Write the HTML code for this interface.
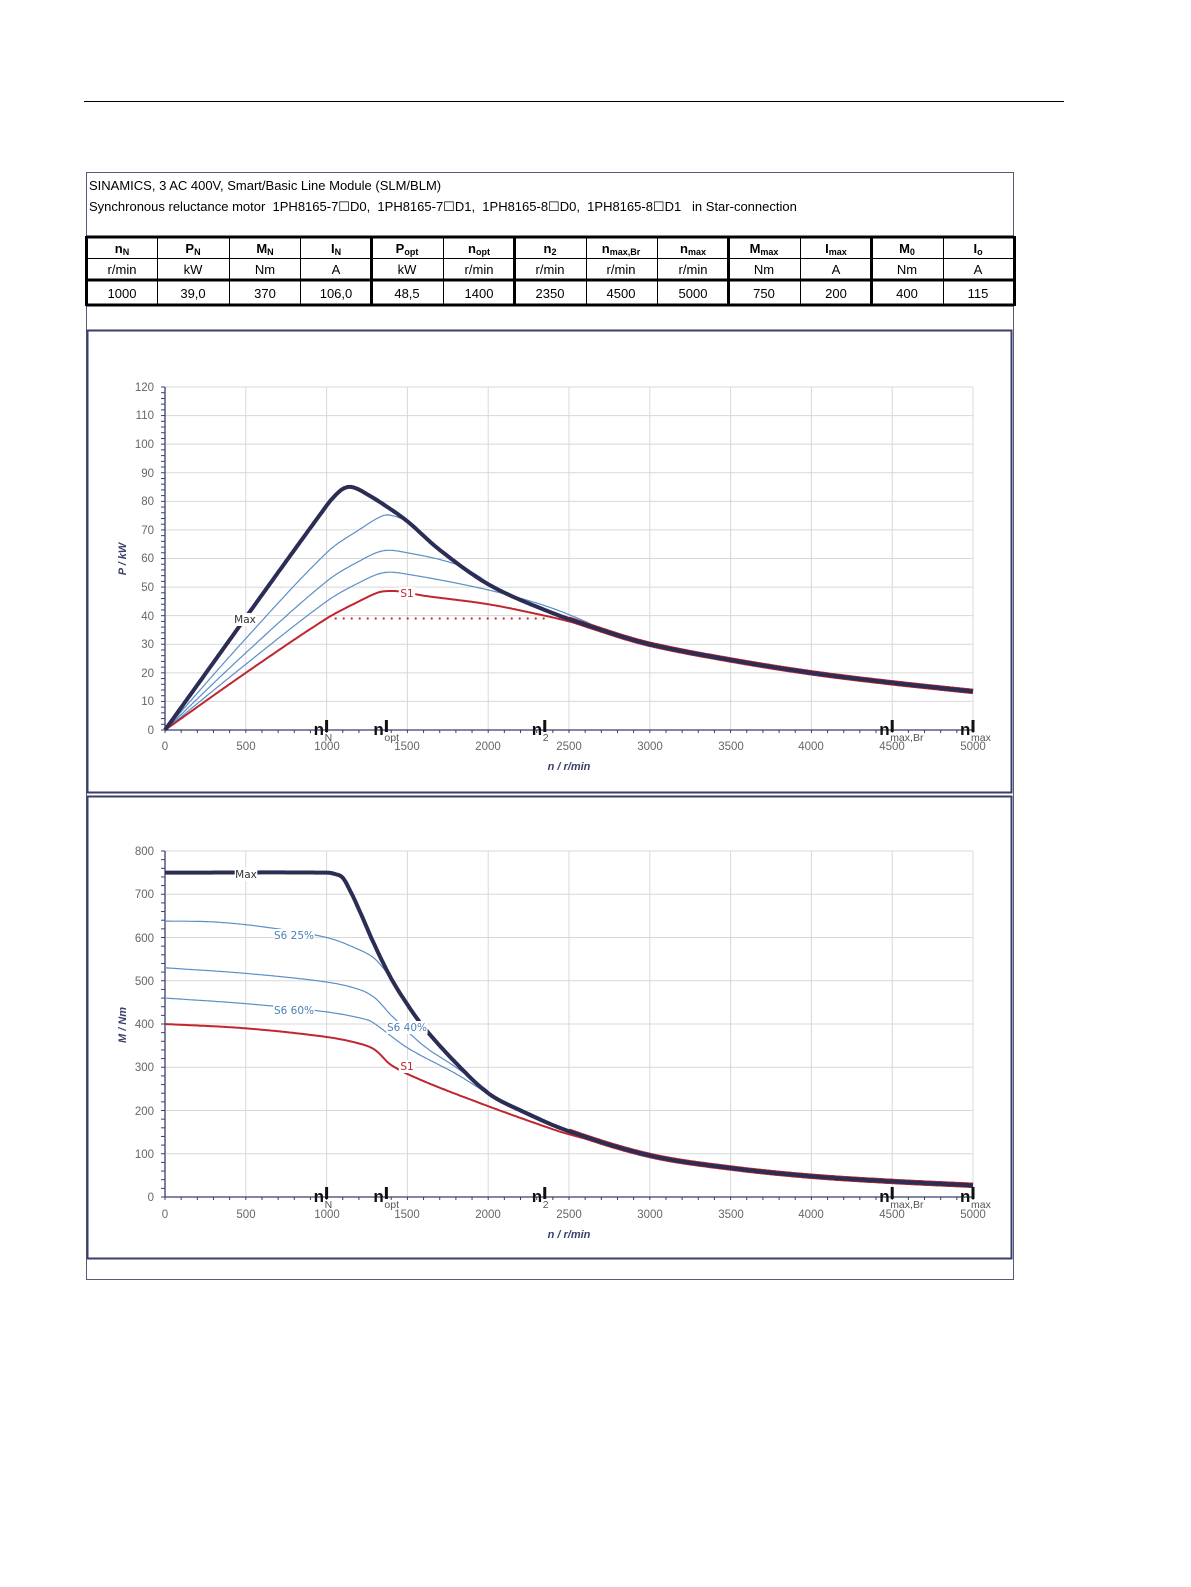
<!DOCTYPE html>
<html><head><meta charset="utf-8"><style>
html,body{margin:0;padding:0;background:#fff;overflow:hidden;width:1191px;height:1587px;}
svg{display:block;font-family:"Liberation Sans",Arial,sans-serif;}
.t{font-size:13px;fill:#000;white-space:pre;}
.ax{font-size:11.5px;fill:#666;}
.lab{font-size:11px;font-weight:bold;font-style:italic;fill:#3a3f6a;}
.mk{font-size:17px;font-weight:bold;fill:#111;}
.sub{font-size:10.5px;fill:#555;}
</style></head><body>
<svg id="s" width="1191" height="1587" viewBox="0 0 1191 1587" xmlns="http://www.w3.org/2000/svg" xml:space="preserve">
<line x1="84" y1="101.5" x2="1064" y2="101.5" stroke="#000" stroke-width="1"/>
<rect x="86.5" y="172.5" width="927" height="1107" fill="none" stroke="#5a5a78" stroke-width="1"/>
<text class="t" x="89" y="190">SINAMICS, 3 AC 400V, Smart/Basic Line Module (SLM/BLM)</text>
<text class="t" x="89" y="211">Synchronous reluctance motor  1PH8165-7☐D0,  1PH8165-7☐D1,  1PH8165-8☐D0,  1PH8165-8☐D1   in Star-connection</text>
<g id="tbl"></g>
<g class="t" text-anchor="middle" font-size="13">
<text x="122" y="253" font-weight="bold">n<tspan font-size="9" dy="2">N</tspan></text>
<text x="193" y="253" font-weight="bold">P<tspan font-size="9" dy="2">N</tspan></text>
<text x="265" y="253" font-weight="bold">M<tspan font-size="9" dy="2">N</tspan></text>
<text x="336" y="253" font-weight="bold">I<tspan font-size="9" dy="2">N</tspan></text>
<text x="407" y="253" font-weight="bold">P<tspan font-size="9" dy="2">opt</tspan></text>
<text x="479" y="253" font-weight="bold">n<tspan font-size="9" dy="2">opt</tspan></text>
<text x="550" y="253" font-weight="bold">n<tspan font-size="9" dy="2">2</tspan></text>
<text x="621" y="253" font-weight="bold">n<tspan font-size="9" dy="2">max,Br</tspan></text>
<text x="693" y="253" font-weight="bold">n<tspan font-size="9" dy="2">max</tspan></text>
<text x="764" y="253" font-weight="bold">M<tspan font-size="9" dy="2">max</tspan></text>
<text x="836" y="253" font-weight="bold">I<tspan font-size="9" dy="2">max</tspan></text>
<text x="907" y="253" font-weight="bold">M<tspan font-size="9" dy="2">0</tspan></text>
<text x="978" y="253" font-weight="bold">I<tspan font-size="9" dy="2">o</tspan></text>
<text x="122" y="274">r/min</text><text x="193" y="274">kW</text><text x="265" y="274">Nm</text><text x="336" y="274">A</text><text x="407" y="274">kW</text><text x="479" y="274">r/min</text><text x="550" y="274">r/min</text><text x="621" y="274">r/min</text><text x="693" y="274">r/min</text><text x="764" y="274">Nm</text><text x="836" y="274">A</text><text x="907" y="274">Nm</text><text x="978" y="274">A</text>
<text x="122" y="298">1000</text><text x="193" y="298">39,0</text><text x="265" y="298">370</text><text x="336" y="298">106,0</text><text x="407" y="298">48,5</text><text x="479" y="298">1400</text><text x="550" y="298">2350</text><text x="621" y="298">4500</text><text x="693" y="298">5000</text><text x="764" y="298">750</text><text x="836" y="298">200</text><text x="907" y="298">400</text><text x="978" y="298">115</text>
</g>
<rect x="87.5" y="330.5" width="924" height="462" fill="none" stroke="#3a3f6a" stroke-width="2"/>
<rect x="87.5" y="796.5" width="924" height="462" fill="none" stroke="#3a3f6a" stroke-width="2"/>
<g id="g1"></g><g id="g2"></g>
<g class="ax" text-anchor="end">
<text x="154" y="734">0</text><text x="154" y="705">10</text><text x="154" y="677">20</text><text x="154" y="648">30</text><text x="154" y="620">40</text><text x="154" y="591">50</text><text x="154" y="562">60</text><text x="154" y="534">70</text><text x="154" y="505">80</text><text x="154" y="477">90</text><text x="154" y="448">100</text><text x="154" y="419">110</text><text x="154" y="391">120</text>
</g>
<g class="ax" text-anchor="middle">
<text x="165" y="750">0</text><text x="246" y="750">500</text><text x="327" y="750">1000</text><text x="407" y="750">1500</text><text x="488" y="750">2000</text><text x="569" y="750">2500</text><text x="650" y="750">3000</text><text x="731" y="750">3500</text><text x="811" y="750">4000</text><text x="892" y="750">4500</text><text x="973" y="750">5000</text>
</g>
<text class="lab" x="569" y="770" text-anchor="middle">n / r/min</text>
<text class="lab" transform="translate(126,559) rotate(-90)" text-anchor="middle">P / kW</text>
<g class="ax" text-anchor="end">
<text x="154" y="1201">0</text><text x="154" y="1158">100</text><text x="154" y="1115">200</text><text x="154" y="1071">300</text><text x="154" y="1028">400</text><text x="154" y="985">500</text><text x="154" y="942">600</text><text x="154" y="898">700</text><text x="154" y="855">800</text>
</g>
<g class="ax" text-anchor="middle">
<text x="165" y="1218">0</text><text x="246" y="1218">500</text><text x="327" y="1218">1000</text><text x="407" y="1218">1500</text><text x="488" y="1218">2000</text><text x="569" y="1218">2500</text><text x="650" y="1218">3000</text><text x="731" y="1218">3500</text><text x="811" y="1218">4000</text><text x="892" y="1218">4500</text><text x="973" y="1218">5000</text>
</g>
<text class="lab" x="569" y="1238" text-anchor="middle">n / r/min</text>
<text class="lab" transform="translate(126,1025) rotate(-90)" text-anchor="middle">M / Nm</text>
<g id="curves"></g>
<g id="marks"></g>
<g id="labels" font-size="10.5" font-family="'DejaVu Sans',sans-serif"></g>
</svg>
<script>
var NS="http://www.w3.org/2000/svg";
function el(p,t,a,txt){var e=document.createElementNS(NS,t);for(var k in a)e.setAttribute(k,a[k]);if(txt!==undefined)e.textContent=txt;document.getElementById(p).appendChild(e);return e;}
var cx=[86,157,229,300,371,443,514,586,657,728,800,871,943,1014];
el("tbl","line",{x1:86,y1:237,x2:1014,y2:237,stroke:"#000","stroke-width":3});
el("tbl","line",{x1:86,y1:258.5,x2:1014,y2:258.5,stroke:"#000","stroke-width":1});
el("tbl","line",{x1:86,y1:280,x2:1014,y2:280,stroke:"#000","stroke-width":3});
el("tbl","line",{x1:86,y1:305,x2:1014,y2:305,stroke:"#000","stroke-width":3});
var thick={0:1,4:1,6:1,9:1,11:1,13:1};
cx.forEach(function(x,i){el("tbl","line",{x1:x+0.5,y1:236,x2:x+0.5,y2:306,stroke:"#000","stroke-width":thick[i]?3:1});});
function sx(n){return 165+n*808/5000;}
function gridChart(g,y0,y1,vmax,step,minor){
  var py=function(v){return y0-(v/vmax)*(y0-y1);};
  for(var n=500;n<=5000;n+=500)el(g,"line",{x1:sx(n),y1:y1,x2:sx(n),y2:y0,stroke:"#d8d8d8","stroke-width":1});
  for(var v=step;v<=vmax;v+=step)el(g,"line",{x1:165,y1:py(v),x2:973,y2:py(v),stroke:"#d8d8d8","stroke-width":1});
  el(g,"line",{x1:165,y1:y1,x2:165,y2:y0,stroke:"#3a3f6a","stroke-width":1.3});
  el(g,"line",{x1:165,y1:y0,x2:973,y2:y0,stroke:"#3a3f6a","stroke-width":1.3});
  for(var v=0;v<=vmax+0.001;v+=minor)el(g,"line",{x1:161,y1:py(v),x2:165,y2:py(v),stroke:"#3a3f6a","stroke-width":1});
  for(var n=0;n<=5000;n+=100)el(g,"line",{x1:sx(n),y1:y0,x2:sx(n),y2:y0+3,stroke:"#3a3f6a","stroke-width":1});
  return py;
}
var pyP=gridChart("g1",730,387,120,10,2);
var pyM=gridChart("g2",1197,851,800,100,20);
function interp(pts,n){for(var i=1;i<pts.length;i++){if(n<=pts[i][0]){var a=pts[i-1],b=pts[i];var t=(n-a[0])/(b[0]-a[0]);
 var p0=pts[Math.max(i-2,0)],p3=pts[Math.min(i+1,pts.length-1)];
 var m1=(b[1]-p0[1])/(b[0]-p0[0])*(b[0]-a[0]),m2=(p3[1]-a[1])/(p3[0]-a[0])*(b[0]-a[0]);
 var t2=t*t,t3=t2*t;return (2*t3-3*t2+1)*a[1]+(t3-2*t2+t)*m1+(-2*t3+3*t2)*b[1]+(t3-t2)*m2;}}return pts[pts.length-1][1];}
function curve(pts,py,col,w,n0,n1){var d="";n0=n0||0;n1=n1||5000;for(var n=n0;n<=n1;n+=10){d+=(d?"L":"M")+sx(n).toFixed(1)+","+py(interp(pts,n)).toFixed(1);}
 el("curves","path",{d:d,fill:"none",stroke:col,"stroke-width":w,"stroke-linejoin":"round"});}
var tail=[[2350,42],[2700,35],[3000,30],[3500,24.5],[4000,20],[4500,16.5],[5000,13.5]];
var Pmax=[[0,0],[1000,78.5],[1080,83.5],[1130,85],[1180,84.6],[1250,82.5],[1350,79],[1500,73],[1700,63],[2000,51]].concat(tail);
var P25=[[0,0],[500,32],[1000,62],[1200,70],[1350,75],[1420,74.8],[1500,73]];
var P40=[[0,0],[500,27],[1000,52],[1200,59],[1350,62.7],[1500,62],[1800,58],[1950,53.5],[2000,51]];
var P60=[[0,0],[500,23],[1000,45],[1200,51.5],[1350,55],[1500,54.5],[2000,49],[2350,43.5],[2600,38],[2700,35]];
var PS1=[[0,0],[500,20],[1000,39],[1200,45],[1300,47.7],[1350,48.5],[1450,48.5],[1600,47],[2000,44],[2350,40],[2500,38],[2700,35]];
var blue="#5b8ec7",red="#c0262d",navy="#2b2d55";
curve(P25,pyP,blue,1.2,0,1500);curve(P40,pyP,blue,1.2,0,2000);curve(P60,pyP,blue,1.2,0,2700);
curve(PS1,pyP,red,2,0,2700);
curve(Pmax,pyP,red,5.5,2500,5000);
curve(Pmax,pyP,navy,4,0,5000);
el("curves","line",{x1:sx(1050),y1:pyP(39),x2:sx(2350),y2:pyP(39),stroke:red,"stroke-width":2,"stroke-dasharray":"2,6"});
var Mtail=[[2000,240],[2200,200],[2500,152],[3000,96],[3500,67],[4000,48],[4500,36],[5000,27]];
var Mmax=[[0,750],[1000,750],[1050,747],[1100,738],[1150,705],[1200,665],[1300,580],[1400,505],[1500,445],[1600,393],[1800,310]].concat(Mtail);
var M25=[[0,638],[300,636],[600,625],[1000,600],[1200,572],[1300,550],[1400,505],[1500,450]];
var M40=[[0,530],[500,517],[1000,497],[1200,480],[1300,460],[1400,420],[1600,350],[1800,300],[2000,245]];
var M60=[[0,460],[500,447],[1000,428],[1250,410],[1300,400],[1500,345],[1800,285],[2000,240],[2350,178]];
var MS1=[[0,400],[500,390],[1000,370],[1200,355],[1300,340],[1400,305],[1600,268],[2000,210],[2350,163],[2500,145],[3000,96]];
curve(M25,pyM,blue,1.2,0,1500);curve(M40,pyM,blue,1.2,0,2000);curve(M60,pyM,blue,1.2,0,2350);
curve(MS1,pyM,red,2,0,3000);
curve(Mmax,pyM,red,5.5,2500,5000);
curve(Mmax,pyM,navy,4,0,5000);
function marks(y0){
 [[1000,"N"],[1370,"opt"],[2350,"2"],[4500,"max,Br"],[5000,"max"]].forEach(function(m){
  var x=sx(m[0]);
  el("marks","line",{x1:x,y1:y0-10,x2:x,y2:y0+2,stroke:"#111","stroke-width":3});
  el("marks","text",{x:x-13,y:y0+5,"class":"mk"},"n");
  el("marks","text",{x:x-2,y:y0+11,"class":"sub"},m[1]);
 });}
marks(730);marks(1197);
function lab(x,y,t,c){var e=el("labels","text",{x:x,y:y,"text-anchor":"middle",fill:c},t);var w=t.length*6.2+4;
 var r=document.createElementNS(NS,"rect");r.setAttribute("x",x-w/2);r.setAttribute("y",y-10);r.setAttribute("width",w);r.setAttribute("height",13);r.setAttribute("fill","#fff");e.parentNode.insertBefore(r,e);}
lab(245,623,"Max","#333");lab(407,597,"S1",red);
lab(246,878,"Max","#333");lab(294,939,"S6 25%","#4a7fb8");lab(294,1014,"S6 60%","#4a7fb8");lab(407,1031,"S6 40%","#4a7fb8");lab(407,1070,"S1",red);
</script>
</body></html>
